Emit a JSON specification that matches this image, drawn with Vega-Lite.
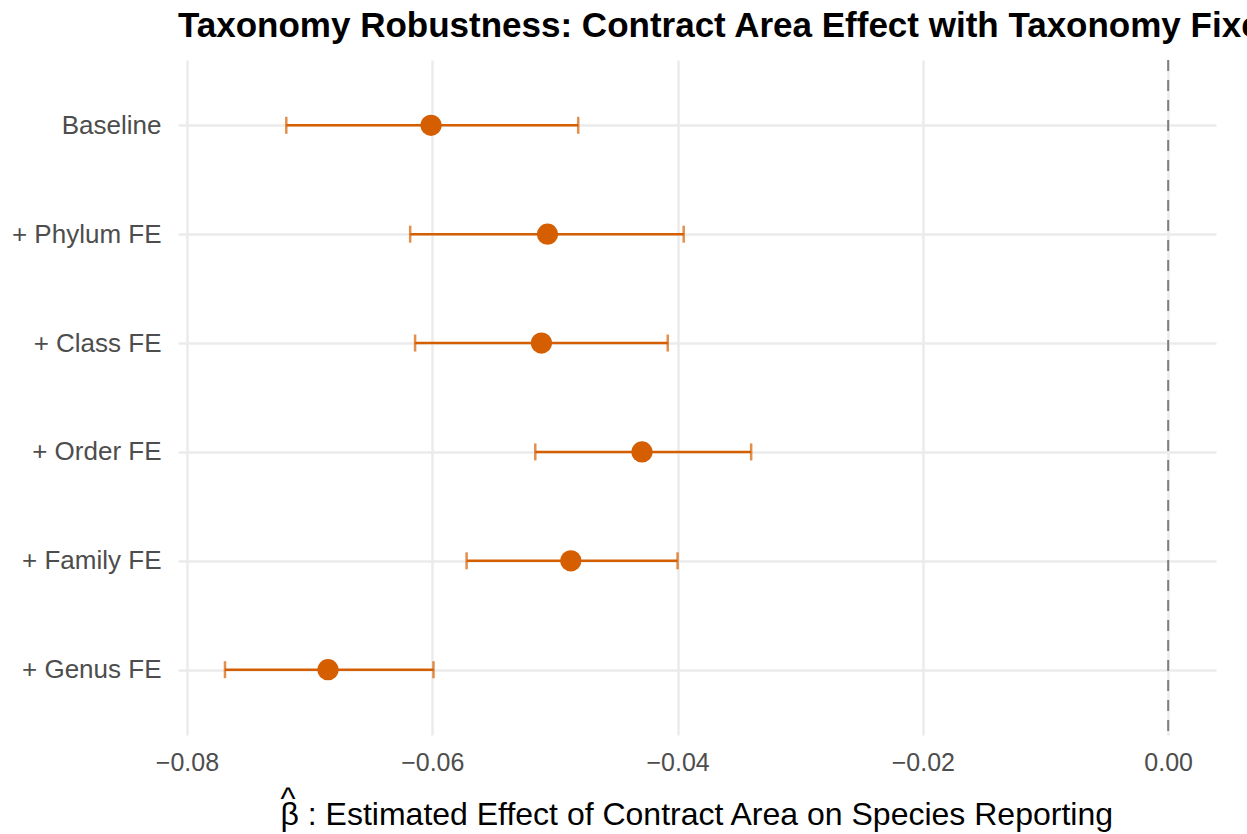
{
  "$schema": "https://vega.github.io/schema/vega-lite/v6.json",
  "autosize": {"type": "none"},
  "width": 1038,
  "height": 675,
  "padding": {"left": 178, "top": 60, "right": 31, "bottom": 99},
  "background": "white",
  "config": {
    "view": {"stroke": null},
    "font": "Liberation Sans"
  },
  "title": {
    "text": "Taxonomy Robustness: Contract Area Effect with Taxonomy Fixed Effects",
    "anchor": "start",
    "frame": "group",
    "font": "Liberation Sans",
    "fontSize": 35,
    "fontWeight": "bold",
    "color": "#000000",
    "offset": 15
  },
  "data": {
    "values": [
      {"model": "Baseline", "est": -0.0601, "lo": -0.0719, "hi": -0.0481},
      {"model": "+ Phylum FE", "est": -0.0506, "lo": -0.0618, "hi": -0.0395},
      {"model": "+ Class FE", "est": -0.0511, "lo": -0.0614, "hi": -0.0408},
      {"model": "+ Order FE", "est": -0.0429, "lo": -0.0516, "hi": -0.0340},
      {"model": "+ Family FE", "est": -0.0487, "lo": -0.0572, "hi": -0.0400},
      {"model": "+ Genus FE", "est": -0.0685, "lo": -0.0769, "hi": -0.0599}
    ]
  },
  "encoding": {
    "y": {
      "field": "model",
      "type": "nominal",
      "sort": ["Baseline", "+ Phylum FE", "+ Class FE", "+ Order FE", "+ Family FE", "+ Genus FE"],
      "scale": {"type": "point", "padding": 0.6},
      "axis": {
        "title": null,
        "domain": false,
        "ticks": false,
        "labelFontSize": 26,
        "labelColor": "#4d4d4d",
        "labelPadding": 17,
        "grid": true,
        "gridColor": "#ebebeb",
        "gridWidth": 2.5
      }
    }
  },
  "layer": [
    {
      "mark": {"type": "rule", "color": "#7f7f7f", "strokeWidth": 2, "strokeDash": [11, 9]},
      "data": {"values": [{"z": 0}]},
      "encoding": {
        "x": {"field": "z", "type": "quantitative"},
        "y": null
      }
    },
    {
      "mark": {"type": "rule", "color": "#D55E00", "strokeWidth": 2.5},
      "encoding": {
        "x": {
          "field": "lo",
          "type": "quantitative",
          "scale": {"domain": [-0.08073, 0.0039], "nice": false, "zero": false},
          "axis": {
            "title": ["^", "β : Estimated Effect of Contract Area on Species Reporting"],
            "titleFontSize": 32,
            "titleFontWeight": "normal",
            "titleColor": "#000000",
            "titleAlign": "left",
            "titleAnchor": "start",
            "titleX": 102,
            "titleLineHeight": 16,
            "titlePadding": 8,
            "domain": false,
            "ticks": false,
            "values": [-0.08, -0.06, -0.04, -0.02, 0],
            "format": ".2f",
            "labelFontSize": 25,
            "labelColor": "#4d4d4d",
            "labelPadding": 15,
            "grid": true,
            "gridColor": "#ebebeb",
            "gridWidth": 2.5
          }
        },
        "x2": {"field": "hi"}
      }
    },
    {
      "mark": {"type": "tick", "color": "#D55E00", "thickness": 2.5, "size": 17, "orient": "vertical"},
      "encoding": {"x": {"field": "lo", "type": "quantitative"}}
    },
    {
      "mark": {"type": "tick", "color": "#D55E00", "thickness": 2.5, "size": 17, "orient": "vertical"},
      "encoding": {"x": {"field": "hi", "type": "quantitative"}}
    },
    {
      "mark": {"type": "point", "filled": true, "color": "#D55E00", "opacity": 1, "size": 450},
      "encoding": {"x": {"field": "est", "type": "quantitative"}}
    }
  ]
}
